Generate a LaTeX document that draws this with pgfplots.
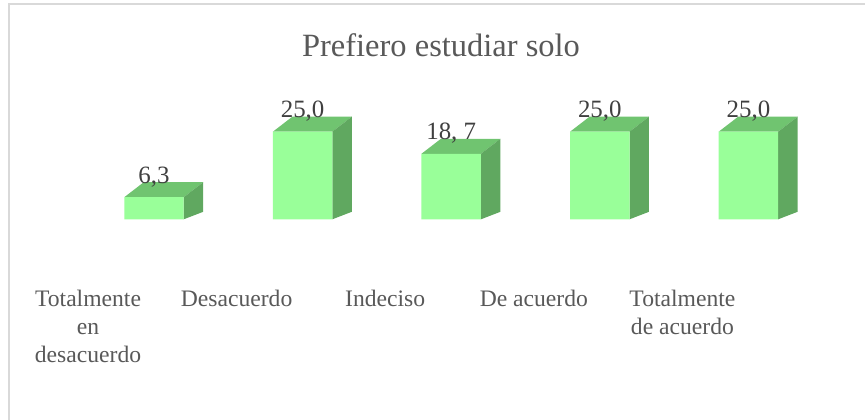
\documentclass[border=0pt]{standalone}
\usepackage{pgfplots}
\pgfplotsset{compat=1.18}
\usepackage{pgfplotstable}
\usepackage{fontspec}
\setmainfont{Liberation Serif}
\definecolor{frontc}{RGB}{153,255,153}
\definecolor{topc}{RGB}{112,196,112}
\definecolor{sidec}{RGB}{96,168,96}
\definecolor{txt}{RGB}{89,89,89}
\definecolor{vtxt}{RGB}{64,64,64}
\definecolor{framec}{RGB}{217,217,217}
\pgfplotstableread{
x v
0 6.3
1 25.0
2 18.7
3 25.0
4 25.0
}\datatable
\begin{document}
\begin{tikzpicture}
\useasboundingbox[fill=white] (0,0) rectangle (865bp,420bp);
\draw[framec, line width=1.5bp] (9bp,-2bp) -- (9bp,416bp) -- (867bp,416bp);
\node[anchor=base, text=txt, font=\fontsize{32.6}{38}\selectfont] at (441bp,363bp) {Prefiero estudiar solo};
\begin{axis}[
  x=148.6bp, y=3.504bp,
  xmin=-1, xmax=4.6, ymin=0, ymax=32,
  hide axis, clip=false,
  at={(5.4bp,200.7bp)}, anchor=south west,
]
% top faces
\addplot[fill=topc, draw=none] coordinates {(-0.2,6.3) (-0.069,10.58) (0.331,10.58) (0.2,6.3)} -- cycle;
\addplot[fill=topc, draw=none] coordinates {(0.8,25) (0.931,29.28) (1.331,29.28) (1.2,25)} -- cycle;
\addplot[fill=topc, draw=none] coordinates {(1.8,18.7) (1.931,22.98) (2.331,22.98) (2.2,18.7)} -- cycle;
\addplot[fill=topc, draw=none] coordinates {(2.8,25) (2.931,29.28) (3.331,29.28) (3.2,25)} -- cycle;
\addplot[fill=topc, draw=none] coordinates {(3.8,25) (3.931,29.28) (4.331,29.28) (4.2,25)} -- cycle;
% side faces
\addplot[fill=sidec, draw=none] coordinates {(0.2,0) (0.331,2.14) (0.331,10.58) (0.2,6.3)} -- cycle;
\addplot[fill=sidec, draw=none] coordinates {(1.2,0) (1.331,2.14) (1.331,29.28) (1.2,25)} -- cycle;
\addplot[fill=sidec, draw=none] coordinates {(2.2,0) (2.331,2.14) (2.331,22.98) (2.2,18.7)} -- cycle;
\addplot[fill=sidec, draw=none] coordinates {(3.2,0) (3.331,2.14) (3.331,29.28) (3.2,25)} -- cycle;
\addplot[fill=sidec, draw=none] coordinates {(4.2,0) (4.331,2.14) (4.331,29.28) (4.2,25)} -- cycle;
% front faces
\addplot[ybar, bar width=0.4, fill=frontc, draw=none] table[x=x, y=v] {\datatable};
% value labels
\begin{scope}[every node/.style={anchor=base, text=vtxt, font=\fontsize{25}{29}\selectfont, yshift=14bp, inner sep=0pt}]
\node at (axis cs:0,6.3) {6,3};
\node at (axis cs:1,25) {25,0};
\node at (axis cs:2,18.7) {18, 7};
\node at (axis cs:3,25) {25,0};
\node at (axis cs:4,25) {25,0};
\end{scope}
% category labels
\begin{scope}[every node/.style={anchor=north, align=center, text=txt, font=\fontsize{23.7}{28}\selectfont, inner sep=0pt}]
\node at (axis cs:-0.444,-20.26) {Totalmente\\en\\desacuerdo};
\node at (axis cs:0.556,-20.26) {Desacuerdo};
\node at (axis cs:1.556,-20.26) {Indeciso};
\node at (axis cs:2.556,-20.26) {De acuerdo};
\node at (axis cs:3.556,-20.26) {Totalmente\\de acuerdo};
\end{scope}
\end{axis}
\end{tikzpicture}
\end{document}
